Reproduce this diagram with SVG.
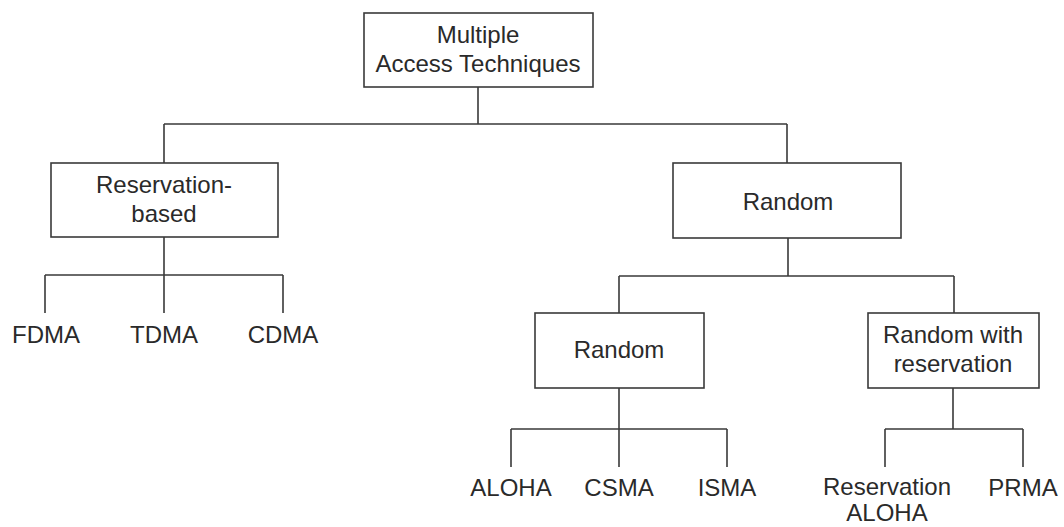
<svg xmlns="http://www.w3.org/2000/svg" width="1064" height="527" viewBox="0 0 1064 527">
<style>
.box{fill:#fff;stroke:#3a3a3a;stroke-width:1.6}
.ln{fill:none;stroke:#3a3a3a;stroke-width:1.6}
text{font-family:"Liberation Sans",Arial,sans-serif;font-size:24px;fill:#2a2a2a;text-anchor:middle}
</style>
<rect width="1064" height="527" fill="#fff"/>
<g id="connectors" class="ln">
<path d="M478 87V124M164 124H787M164 124V163M787 124V163"/>
<path d="M164 237V275M45 275H283M45 275V313M164 275V313M283 275V313"/>
<path d="M788 238V276M619 276H954M619 276V313M954 276V313"/>
<path d="M619 388V429M511 429H727M511 429V467M619 429V467M727 429V467"/>
<path d="M953 388V429M885 429H1023M885 429V467M1023 429V467"/>
</g>
<g id="root"><rect class="box" x="364" y="13" width="229" height="74"/><text x="478" y="43">Multiple</text><text x="478" y="72">Access Techniques</text></g>
<g id="reservation-based"><rect class="box" x="51" y="163" width="227" height="74"/><text x="164" y="193">Reservation-</text><text x="164" y="222">based</text></g>
<g id="random-top"><rect class="box" x="673" y="163" width="228" height="75"/><text x="788" y="210">Random</text></g>
<g id="fdma"><text x="46" y="343">FDMA</text></g>
<g id="tdma"><text x="164" y="343">TDMA</text></g>
<g id="cdma"><text x="283" y="343">CDMA</text></g>
<g id="random-mid"><rect class="box" x="535" y="313" width="169" height="75"/><text x="619" y="358">Random</text></g>
<g id="random-res"><rect class="box" x="868" y="313" width="171" height="75"/><text x="953" y="343">Random with</text><text x="953" y="372">reservation</text></g>
<g id="aloha"><text x="511" y="496">ALOHA</text></g>
<g id="csma"><text x="619" y="496">CSMA</text></g>
<g id="isma"><text x="727" y="496">ISMA</text></g>
<g id="res-aloha"><text x="887" y="495">Reservation</text><text x="887" y="521">ALOHA</text></g>
<g id="prma"><text x="1023" y="496">PRMA</text></g>
</svg>
